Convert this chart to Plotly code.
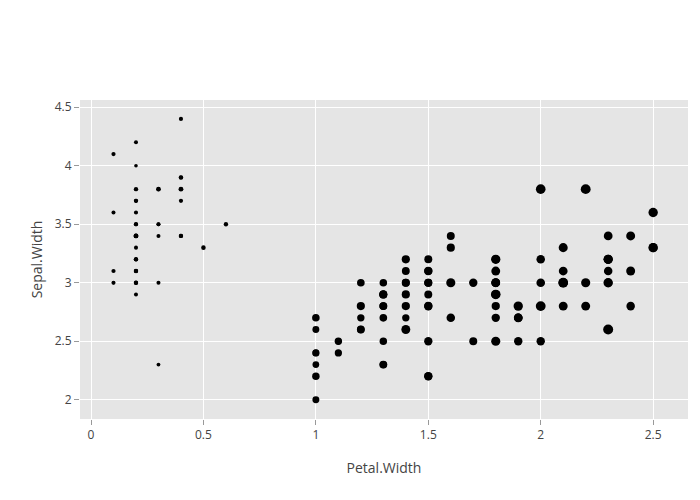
import plotly.graph_objects as go

# Iris dataset columns used
petal_width = [0.2,0.2,0.2,0.2,0.2,0.4,0.3,0.2,0.2,0.1,0.2,0.2,0.1,0.1,0.2,0.4,0.4,0.3,0.3,0.3,
               0.2,0.4,0.2,0.5,0.2,0.2,0.4,0.2,0.2,0.2,0.2,0.4,0.1,0.2,0.2,0.2,0.2,0.1,0.2,0.2,
               0.3,0.3,0.2,0.6,0.4,0.3,0.2,0.2,0.2,0.2,
               1.4,1.5,1.5,1.3,1.5,1.3,1.6,1.0,1.3,1.4,1.0,1.5,1.0,1.4,1.3,1.4,1.5,1.0,1.5,1.1,
               1.8,1.3,1.5,1.2,1.3,1.4,1.4,1.7,1.5,1.0,1.1,1.0,1.2,1.6,1.5,1.6,1.5,1.3,1.3,1.3,
               1.2,1.4,1.2,1.0,1.3,1.2,1.3,1.3,1.1,1.3,
               2.5,1.9,2.1,1.8,2.2,2.1,1.7,1.8,1.8,2.5,2.0,1.9,2.1,2.0,2.4,2.3,1.8,2.2,2.3,1.5,
               2.3,2.0,2.0,1.8,2.1,1.8,1.8,1.8,2.1,1.6,1.9,2.0,2.2,1.5,1.4,2.3,2.4,1.8,1.8,2.1,
               2.4,2.3,1.9,2.3,2.5,2.3,1.9,2.0,2.3,1.8]
sepal_width = [3.5,3.0,3.2,3.1,3.6,3.9,3.4,3.4,2.9,3.1,3.7,3.4,3.0,3.0,4.0,4.4,3.9,3.5,3.8,3.8,
               3.4,3.7,3.6,3.3,3.4,3.0,3.4,3.5,3.4,3.2,3.1,3.4,4.1,4.2,3.1,3.2,3.5,3.6,3.0,3.4,
               3.5,2.3,3.2,3.5,3.8,3.0,3.8,3.2,3.7,3.3,
               3.2,3.2,3.1,2.3,2.8,2.8,3.3,2.4,2.9,2.7,2.0,3.0,2.2,2.9,2.9,3.1,3.0,2.7,2.2,2.5,
               3.2,2.8,2.5,2.8,2.9,3.0,2.8,3.0,2.9,2.6,2.4,2.4,2.7,2.7,3.0,3.4,3.1,2.3,3.0,2.5,
               2.6,3.0,2.6,2.3,2.7,3.0,2.9,2.9,2.5,2.8,
               3.3,2.7,3.0,2.9,3.0,3.0,2.5,2.9,2.5,3.6,3.2,2.7,3.0,2.5,2.8,3.2,3.0,3.8,2.6,2.2,
               3.2,2.8,2.8,2.7,3.3,3.2,2.8,3.0,2.8,3.0,2.8,3.8,2.8,2.8,2.6,3.0,3.4,3.1,3.0,3.1,
               3.1,3.1,2.7,3.2,3.3,3.0,2.5,3.0,3.4,3.0]
petal_length = [1.4,1.4,1.3,1.5,1.4,1.7,1.4,1.5,1.4,1.5,1.5,1.6,1.4,1.1,1.2,1.5,1.3,1.4,1.7,1.5,
                1.7,1.5,1.0,1.7,1.9,1.6,1.6,1.5,1.4,1.6,1.6,1.5,1.5,1.4,1.5,1.2,1.3,1.4,1.3,1.5,
                1.3,1.3,1.3,1.6,1.9,1.4,1.6,1.4,1.5,1.4,
                4.7,4.5,4.9,4.0,4.6,4.5,4.7,3.3,4.6,3.9,3.5,4.2,4.0,4.7,3.6,4.4,4.5,4.1,4.5,3.9,
                4.8,4.0,4.9,4.7,4.3,4.4,4.8,5.0,4.5,3.5,3.8,3.7,3.9,5.1,4.5,4.5,4.7,4.4,4.1,4.0,
                4.4,4.6,4.0,3.3,4.2,4.2,4.2,4.3,3.0,4.1,
                6.0,5.1,5.9,5.6,5.8,6.6,4.5,6.3,5.8,6.1,5.1,5.3,5.5,5.0,5.1,5.3,5.5,6.7,6.9,5.0,
                5.7,4.9,6.7,4.9,5.7,6.0,4.8,4.9,5.6,5.8,6.1,6.4,5.6,5.1,5.6,6.1,5.6,5.5,4.8,5.4,
                5.6,5.1,5.1,5.9,5.7,5.2,5.0,5.2,5.4,5.1]

# size mapping (area between 10 and 100)
lo, hi = min(petal_length), max(petal_length)
sizes = [10 + 90 * (v - lo) / (hi - lo) for v in petal_length]

fig = go.Figure(go.Scatter(
    x=petal_width, y=sepal_width, mode="markers",
    marker=dict(size=sizes, sizemode="area", sizeref=2, color="black",
                opacity=1, line=dict(width=0)),
))

axis_common = dict(
    showgrid=True, gridcolor="white", gridwidth=1, zeroline=False,
    ticks="outside", ticklen=5, tickcolor="#999999", tickwidth=1,
    showline=False, tickfont=dict(size=12, color="#444"), automargin=False,
)
# page body has an 8px margin; offsets compensate so the plot lands where the reference has it
fig.update_layout(
    width=700, height=500,
    paper_bgcolor="white", plot_bgcolor="#E5E5E5",
    font=dict(family="Open Sans", color="#444"),
    margin=dict(l=72, r=20, t=92, b=89),
    showlegend=False,
    xaxis=dict(range=[-0.049, 2.655], tickvals=[0, 0.5, 1, 1.5, 2, 2.5],
               ticktext=["0", "0.5", "1", "1.5", "2", "2.5"],
               title=dict(text="Petal.Width", font=dict(size=14), standoff=20), **axis_common),
    yaxis=dict(range=[1.835, 4.562], tickvals=[2, 2.5, 3, 3.5, 4, 4.5],
               ticktext=["2", "2.5", "3", "3.5", "4", "4.5"],
               title=dict(text="Sepal.Width", font=dict(size=14), standoff=8), **axis_common),
)
fig.write_html("out.html")
